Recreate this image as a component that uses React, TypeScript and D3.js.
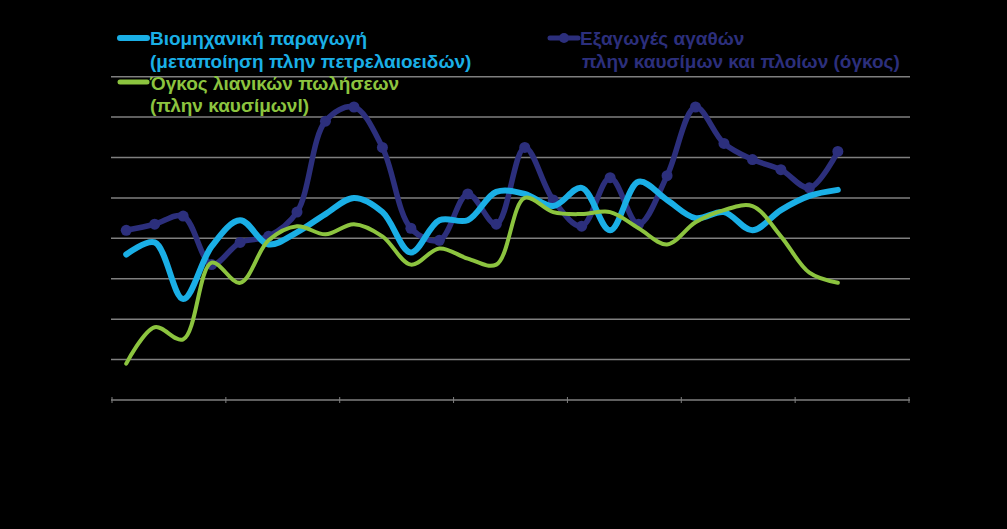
import React, { useEffect } from "react";
import * as d3 from "d3";

// 28 quarterly slots (7 years x 4 quarters); data covers the first 26
const years = ["2007", "2008", "2009", "2010", "2011", "2012", "2013"];
const quarters = ["Q1", "Q2", "Q3", "Q4"];
const categories = years.flatMap((y) => quarters.map((q) => `${q} ${y}`));

const yTicks = [-10, -8, -6, -4, -2, 0, 2, 4, 6];

const industrial = [
  -2.8, -2.2, -5.0, -2.4, -1.1, -2.3, -1.7, -0.8, 0.0, -0.7, -2.7, -1.1, -1.1,
  0.3, 0.2, -0.4, 0.5, -1.6, 0.8, -0.1, -1.0, -0.7, -1.6, -0.6, 0.1, 0.4,
];
const exportsVol = [
  -1.6, -1.3, -0.9, -3.3, -2.2, -1.9, -0.7, 3.8, 4.5, 2.5, -1.5, -2.1, 0.2,
  -1.3, 2.5, -0.1, -1.4, 1.0, -1.3, 1.1, 4.5, 2.7, 1.9, 1.4, 0.5, 2.3,
];
const retail = [
  -8.2, -6.4, -7.0, -3.2, -4.2, -2.1, -1.4, -1.8, -1.3, -1.9, -3.3, -2.5, -3.0,
  -3.3, 0.0, -0.7, -0.8, -0.7, -1.5, -2.3, -1.2, -0.6, -0.4, -1.9, -3.7, -4.2,
];

const C_LIGHT = "#1aafe6";
const C_DARK = "#2c2f7c";
const C_GREEN = "#8cc43f";

const W = 1007;
const H = 529;

export default function App() {
  useEffect(() => {
    document.body.style.margin = "0";
    document.body.style.background = "#000";
  }, []);

  const x = d3
    .scalePoint<string>()
    .domain(categories)
    .range([112, 909])
    .padding(0.5);
  const y = d3.scaleLinear().domain([-10, 6]).range([400, 76.7]);

  const line = (vals: number[]) =>
    d3
      .line<number>()
      .x((_, i) => x(categories[i]) as number)
      .y((d) => y(d))
      .curve(d3.curveCatmullRom.alpha(0.5))(vals) as string;

  const step = x.step();
  const tickXs = d3.range(years.length + 1).map((k) => 112 + k * 4 * step);

  const font = "'Liberation Sans', Arial, sans-serif";

  return (
    <svg
      width={W}
      height={H}
      style={{ position: "absolute", left: 0, top: 0, background: "#000" }}
    >
      <rect x={0} y={0} width={W} height={H} fill="#000" />
      {yTicks.map((t) => (
        <line
          key={t}
          x1={111}
          x2={910}
          y1={y(t)}
          y2={y(t)}
          stroke="#7f7f7f"
          strokeWidth={1.5}
        />
      ))}
      {tickXs.map((tx, i) => (
        <line
          key={i}
          x1={tx}
          x2={tx}
          y1={y(-10) - 3}
          y2={y(-10) + 3}
          stroke="#7f7f7f"
          strokeWidth={1}
        />
      ))}

      <path d={line(exportsVol)} fill="none" stroke={C_DARK} strokeWidth={5.5} strokeLinejoin="round" strokeLinecap="round" />
      {exportsVol.map((v, i) => (
        <circle key={i} cx={x(categories[i]) as number} cy={y(v)} r={5.5} fill={C_DARK} />
      ))}
      <path d={line(industrial)} fill="none" stroke={C_LIGHT} strokeWidth={6} strokeLinejoin="round" strokeLinecap="round" />
      <path d={line(retail)} fill="none" stroke={C_GREEN} strokeWidth={4} strokeLinejoin="round" strokeLinecap="round" />

      <g fontFamily={font} fontSize={19} fontWeight="bold">
        <line x1={120} x2={147} y1={38} y2={38} stroke={C_LIGHT} strokeWidth={6} strokeLinecap="round" />
        <text x={150} y={45} fill={C_LIGHT}>Βιομηχανική παραγωγή</text>
        <text x={150} y={68} fill={C_LIGHT}>(μεταποίηση πλην πετρελαιοειδών)</text>

        <line x1={120} x2={147} y1={82} y2={82} stroke={C_GREEN} strokeWidth={5} strokeLinecap="round" />
        <text x={150} y={90} fill={C_GREEN}>Όγκος λιανικών πωλήσεων</text>
        <text x={150} y={112} fill={C_GREEN}>(πλην καυσίμωνl)</text>

        <line x1={550} x2={578} y1={38} y2={38} stroke={C_DARK} strokeWidth={5} strokeLinecap="round" />
        <circle cx={564} cy={38} r={5} fill={C_DARK} />
        <text x={580} y={45} fill={C_DARK}>Εξαγωγές αγαθών</text>
        <text x={582} y={68} fill={C_DARK}>πλην καυσίμων και πλοίων (όγκος)</text>
      </g>
    </svg>
  );
}
